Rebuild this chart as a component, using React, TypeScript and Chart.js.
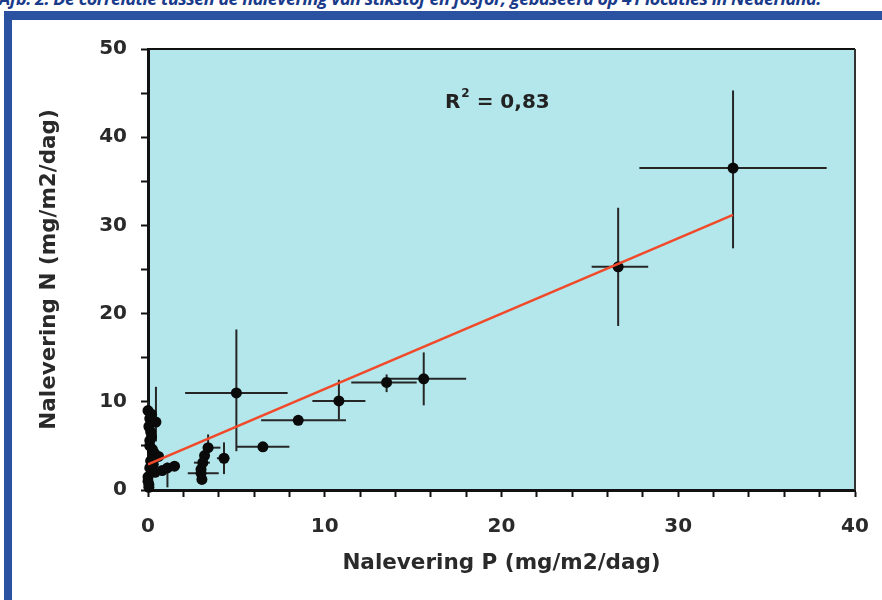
import React, { useEffect, useRef } from "react";
import { Chart, registerables } from "chart.js";

Chart.register(...registerables);

const titleText =
  "Afb. 2. De correlatie tussen de nalevering van stikstof en fosfor, gebaseerd op 41 locaties in Nederland.";
const xAxisTitle = "Nalevering P (mg/m2/dag)";
const yAxisTitle = "Nalevering N (mg/m2/dag)";
const xTickLabels = [0, 10, 20, 30, 40];
const yTickLabels = [0, 10, 20, 30, 40, 50];
const r2Value = "0,83";

// measured locations: P (x) and N (y) with error ranges (null = none)
const pValues = [33.1, 26.6, 15.6, 13.5, 10.8, 8.5, 6.5, 5.0, 3.4, 3.2, 3.1, 3.0, 3.0, 3.05, 4.3, 0.0, 0.1, 0.45, 0.15, 0.1, 0.35, 0.6, 0.1, 0.0, 0.05, 0.4, 0.8, 1.1, 1.5, 0.05, 0.2, 0.1, 0.25, 0.15, 0.3, 0.0, 0.05, 0.2];
const nValues = [36.5, 25.3, 12.6, 12.2, 10.1, 7.9, 4.9, 11.0, 4.8, 3.9, 3.1, 2.35, 1.9, 1.2, 3.6, 9.0, 8.1, 7.7, 6.6, 5.6, 4.2, 3.8, 2.5, 1.5, 0.6, 2.0, 2.2, 2.5, 2.7, 7.2, 6.0, 5.0, 4.6, 3.3, 2.9, 1.0, 0.3, 8.6];
const pLow = [27.8, 25.1, 13.3, 11.5, 9.3, 6.4, 5.0, 2.1, 3.1, null, 2.6, null, 2.25, null, 3.9, null, null, null, null, null, null, null, null, null, null, null, 0.5, 0.8, 1.2, null, null, null, null, null, null, null, null, null];
const pHigh = [38.4, 28.3, 18.0, 15.2, 12.3, 11.2, 8.0, 7.9, 4.1, null, 3.5, null, 4.0, null, 4.6, null, null, null, null, null, null, null, null, null, null, null, 1.1, 1.5, 1.8, null, null, null, null, null, null, null, null, null];
const nLow = [27.4, 18.6, 9.6, 11.1, 8.0, 7.5, 4.5, 4.4, 3.8, null, null, null, null, null, 1.8, 8.2, null, 5.5, null, null, 3.0, null, null, null, null, null, null, 0.3, null, null, null, null, null, null, null, null, null, null];
const nHigh = [45.3, 32.0, 15.6, 13.1, 12.5, 8.3, 5.3, 18.2, 6.3, null, null, null, null, null, 5.4, 10.0, null, 11.7, null, null, 5.2, null, null, null, null, null, null, 3.1, null, null, null, null, null, null, null, null, null, null];

// regression line end points
const fitP = [0, 33.1];
const fitN = [2.9, 31.2];

const FONT = "'DejaVu Sans', Verdana, sans-serif";

const customPlugin = {
  id: "custom",
  beforeDraw(chart: any) {
    const { ctx, chartArea: a } = chart;
    ctx.save();
    ctx.fillStyle = "#b3e7eb";
    ctx.fillRect(a.left, a.top, a.right - a.left, a.bottom - a.top);
    ctx.restore();
  },
  beforeDatasetsDraw(chart: any) {
    const { ctx } = chart;
    const xs = chart.scales.x;
    const ys = chart.scales.y;
    ctx.save();
    ctx.strokeStyle = "#262626";
    ctx.lineWidth = 2;
    for (let i = 0; i < pValues.length; i++) {
      const px = xs.getPixelForValue(pValues[i]);
      const py = ys.getPixelForValue(nValues[i]);
      if (pLow[i] != null && pHigh[i] != null) {
        ctx.beginPath();
        ctx.moveTo(xs.getPixelForValue(pLow[i] as number), py);
        ctx.lineTo(xs.getPixelForValue(pHigh[i] as number), py);
        ctx.stroke();
      }
      if (nLow[i] != null && nHigh[i] != null) {
        ctx.beginPath();
        ctx.moveTo(px, ys.getPixelForValue(nLow[i] as number));
        ctx.lineTo(px, ys.getPixelForValue(nHigh[i] as number));
        ctx.stroke();
      }
    }
    ctx.restore();
  },
  afterDraw(chart: any) {
    const { ctx, chartArea: a } = chart;
    const xs = chart.scales.x;
    const ys = chart.scales.y;
    ctx.save();
    // top and right frame
    ctx.strokeStyle = "#111";
    ctx.lineWidth = 2;
    ctx.beginPath();
    ctx.moveTo(a.left, a.top);
    ctx.lineTo(a.right, a.top);
    ctx.stroke();
    ctx.strokeStyle = "#333";
    ctx.beginPath();
    ctx.moveTo(a.right, a.top);
    ctx.lineTo(a.right, a.bottom);
    ctx.stroke();
    // R² label
    const lx = xs.getPixelForValue(16.8);
    const ly = ys.getPixelForValue(43.9);
    ctx.fillStyle = "#222";
    ctx.textBaseline = "middle";
    ctx.textAlign = "left";
    ctx.font = `bold 20px ${FONT}`;
    ctx.fillText("R", lx, ly);
    const rw = ctx.measureText("R").width;
    ctx.font = `bold 12px ${FONT}`;
    ctx.fillText("2", lx + rw + 1, ly - 9);
    const sw = ctx.measureText("2").width;
    ctx.font = `bold 20px ${FONT}`;
    ctx.fillText(" = " + r2Value, lx + rw + sw + 1, ly);
    ctx.restore();
  },
};

export default function App() {
  const ref = useRef<HTMLCanvasElement | null>(null);

  useEffect(() => {
    if (!ref.current) return;
    const points = pValues.map((p, i) => ({ x: p, y: nValues[i] }));
    const fit = fitP.map((p, i) => ({ x: p, y: fitN[i] }));
    const chart = new Chart(ref.current, {
      type: "scatter",
      data: {
        datasets: [
          {
            type: "line",
            data: fit,
            borderColor: "#f04a2a",
            borderWidth: 2.5,
            pointRadius: 0,
            fill: false,
            order: 0,
          } as any,
          {
            data: points,
            backgroundColor: "#0a0a0a",
            borderWidth: 0,
            pointRadius: 5.5,
            clip: false,
            order: 1,
          } as any,
        ],
      },
      options: {
        animation: false,
        responsive: false,
        devicePixelRatio: 1,
        layout: { padding: { top: 49, right: 27, left: 0, bottom: 0 } },
        plugins: { legend: { display: false }, tooltip: { enabled: false } },
        scales: {
          x: {
            type: "linear",
            min: 0,
            max: 40,
            afterFit: (s: any) => {
              s.height = 110;
              s.paddingLeft = 0;
              s.paddingRight = 0;
            },
            ticks: {
              stepSize: 2,
              autoSkip: false,
              maxRotation: 0,
              padding: 18,
              color: "#2a2a2a",
              font: { family: FONT, size: 20, weight: "bold" },
              callback: (v: any) => (xTickLabels.includes(Number(v)) ? String(v) : ""),
            },
            grid: {
              drawOnChartArea: false,
              drawTicks: true,
              tickLength: 7,
              tickWidth: 2,
              tickColor: "#111",
            },
            border: { display: true, color: "#111", width: 3 },
            title: {
              display: true,
              text: xAxisTitle,
              color: "#2a2a2a",
              font: { family: FONT, size: 21.5, weight: "bold" },
              padding: { top: 0, bottom: 24 },
            },
          },
          y: {
            type: "linear",
            min: 0,
            max: 50,
            afterFit: (s: any) => {
              s.width = 148;
              s.paddingTop = 0;
              s.paddingBottom = 0;
            },
            ticks: {
              stepSize: 5,
              autoSkip: false,
              padding: 14,
              color: "#2a2a2a",
              font: { family: FONT, size: 20, weight: "bold" },
              callback: (v: any) => (yTickLabels.includes(Number(v)) ? String(v) : ""),
            },
            grid: {
              drawOnChartArea: false,
              drawTicks: true,
              tickLength: 7,
              tickWidth: 2,
              tickColor: "#111",
            },
            border: { display: true, color: "#111", width: 3 },
            title: {
              display: true,
              text: yAxisTitle,
              color: "#2a2a2a",
              font: { family: FONT, size: 21.5, weight: "bold" },
              padding: { top: 37, bottom: 0 },
            },
          },
        },
      },
      plugins: [customPlugin],
    });
    return () => chart.destroy();
  }, []);

  return (
    <div
      style={{
        position: "fixed",
        left: 0,
        top: 0,
        width: 882,
        height: 600,
        background: "#fff",
        overflow: "hidden",
      }}
    >
      <div
        style={{
          position: "absolute",
          left: -1,
          top: -11,
          whiteSpace: "nowrap",
          font: "italic 700 18px/18px 'Open Sans', sans-serif",
          letterSpacing: "-0.5px",
          color: "#1a3a8a",
        }}
      >
        {titleText}
      </div>
      <div
        style={{
          position: "absolute",
          left: 4,
          top: 11,
          width: 900,
          height: 620,
          borderTop: "9px solid #2a52a0",
          borderLeft: "8px solid #2a52a0",
        }}
      />
      <canvas
        ref={ref}
        width={882}
        height={600}
        style={{ position: "absolute", left: 0, top: 0, width: 882, height: 600 }}
      />
    </div>
  );
}
